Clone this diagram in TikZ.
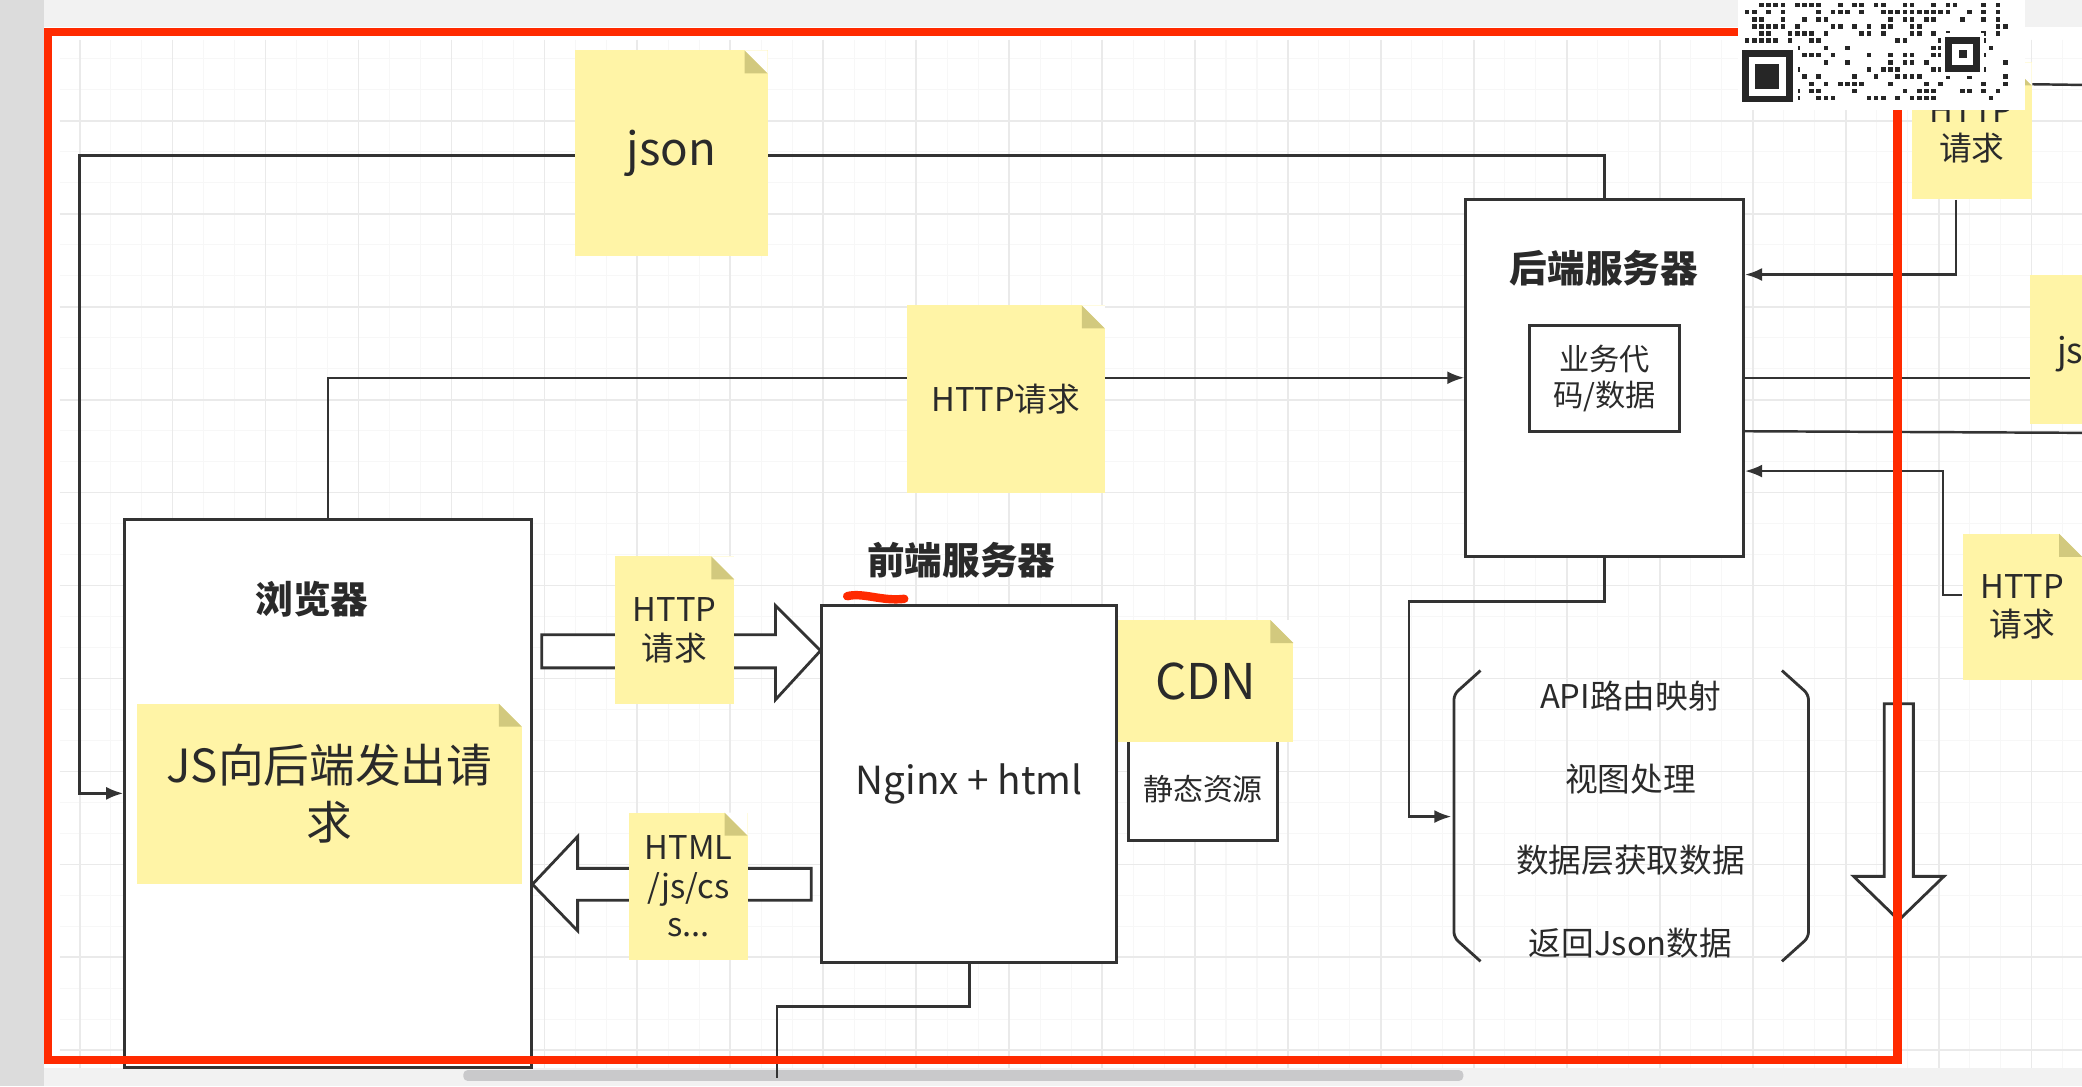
\documentclass[tikz,border=0pt]{standalone}
\usepackage{fontspec}
\setmainfont{Noto Sans CJK SC}
\usetikzlibrary{arrows.meta,calc,backgrounds}

\definecolor{noteyellow}{HTML}{FFF4A6}
\definecolor{notefold}{HTML}{D2C97E}
\definecolor{linegray}{HTML}{333333}
\definecolor{textdark}{HTML}{2A2A2A}
\definecolor{markred}{HTML}{FF2A00}
\definecolor{gridmajor}{HTML}{EAEAEA}
\definecolor{gridminor}{HTML}{F7F7F7}
\definecolor{sidegray}{HTML}{DCDCDC}
\definecolor{topgray}{HTML}{F2F2F2}
\definecolor{scrollgray}{HTML}{C9C9CB}

\newlength{\pxu}\setlength{\pxu}{0.13278mm}
\newlength{\foldsz}\setlength{\foldsz}{2.3mm}

\tikzset{
  bigbox/.style={draw=linegray, line width=0.9pt, fill=white, inner sep=0pt, text=textdark},
  stickynote/.style={fill=noteyellow, inner sep=0pt, text=textdark, align=center,
    path picture={
      \fill[white] ([xshift=-\foldsz]path picture bounding box.north east) -- (path picture bounding box.north east)
        -- ([yshift=-\foldsz]path picture bounding box.north east) -- cycle;
      \fill[notefold] ([xshift=-\foldsz]path picture bounding box.north east) -- ([yshift=-\foldsz]path picture bounding box.north east)
        -- ([xshift=-\foldsz,yshift=-\foldsz]path picture bounding box.north east) -- cycle;
    }},
  wire/.style={draw=linegray, line width=0.7pt},
  wirearrow/.style={wire, -{Latex[length=1.7mm,width=1.3mm]}},
  blockarrow/.style={draw=linegray, line width=0.8pt, fill=white, line join=miter},
  boxtitle/.style={font=\bfseries\fontsize{10.7}{13}\selectfont, text=textdark},
  plaintext/.style={font=\fontsize{9.3}{11}\selectfont, text=textdark}
}

\begin{document}
\begin{tikzpicture}[x=0.013278cm, y=-0.013278cm]
  \useasboundingbox (0,0) rectangle (1568,818);

  \node[bigbox, minimum width=306\pxu, minimum height=413\pxu] (browser) at (247,597.5) {};
  \node[boxtitle] (browsertitle) at (235,451) {浏览器};
  \node[stickynote, minimum width=290\pxu, minimum height=136\pxu, font=\fontsize{13}{16.2}\selectfont] (jsreq) at (248,598) {JS向后端发出请\\求};

  \node[bigbox, minimum width=209\pxu, minimum height=269\pxu] (backend) at (1208.5,284.5) {};
  \node[boxtitle] (backendtitle) at (1208,202) {后端服务器};
  \node[bigbox, line width=0.8pt, minimum width=113\pxu, minimum height=80\pxu, align=center, font=\fontsize{8.6}{10.2}\selectfont] (bizdata) at (1208.5,285) {业务代\\码/数据};

  \node[boxtitle] (fronttitle) at (724,422) {前端服务器};
  \node[bigbox, minimum width=222\pxu, minimum height=269\pxu, font=\fontsize{11}{13}\selectfont] (frontend) at (730,590.5) {Nginx + html};
  \node[bigbox, line width=0.8pt, minimum width=112\pxu, minimum height=78\pxu, font=\fontsize{8.5}{10}\selectfont] (cdnbox) at (906,594) {静态资源};
  \node[stickynote, minimum width=132\pxu, minimum height=92\pxu, font=\fontsize{14}{16}\selectfont] (cdn) at (908,513) {CDN};

  \node[stickynote, minimum width=145\pxu, minimum height=155\pxu, font=\fontsize{13}{15}\selectfont] (json) at (505.5,115.5) {json};
  \node[stickynote, plaintext, minimum width=149\pxu, minimum height=141\pxu] (httpreq) at (757.5,300.5) {HTTP请求};
  \node[stickynote, plaintext, minimum width=90\pxu, minimum height=111\pxu] (pagereq) at (508,474.5) {HTTP\\请求};
  \node[stickynote, plaintext, minimum width=89\pxu, minimum height=111\pxu] (pagefiles) at (518.5,667.5) {HTML\\/js/cs\\s...};

  \node[stickynote, plaintext, minimum width=90\pxu, minimum height=103\pxu] (toprq) at (1485,98.5) {HTTP\\请求};
  \node[stickynote, minimum width=91\pxu, minimum height=112\pxu] (jsright) at (1574.5,263) {};
  \node[anchor=west, font=\fontsize{10}{12}\selectfont, text=textdark] (jstext) at (1540,267) {js};
  \node[stickynote, plaintext, minimum width=90\pxu, minimum height=110\pxu] (httpright) at (1523,457) {HTTP\\请求};

  \node[plaintext] (api1) at (1228,524) {API路由映射};
  \node[plaintext] (api2) at (1228,587) {视图处理};
  \node[plaintext] (api3) at (1228,648) {数据层获取数据};
  \node[plaintext] (api4) at (1228,710) {返回Json数据};

  \coordinate (jsonbend) at (60,117);
  \coordinate (apibend) at (1061,453);
  \coordinate (apiin) at (1093,615);
  \coordinate (frontbend) at (585,758);
  \coordinate (frontout) at (585,812);
  \coordinate (edgetop) at (1570,64);
  \coordinate (edgemid) at (1570,326);

  \begin{scope}[on background layer]
    \fill[white] (0,0) rectangle (1568,818);
    \fill[sidegray] (0,0) rectangle (33,818);
    \fill[topgray] (33,0) rectangle (1568,20);
    \foreach \gx in {60,83.333,...,1568} \draw[gridminor, line width=0.3pt] (\gx,30) -- (\gx,804);
    \foreach \gy in {44.333,67.667,...,804} \draw[gridminor, line width=0.3pt] (45,\gy) -- (1568,\gy);
    \foreach \gx in {60,130,...,1568} \draw[gridmajor, line width=0.5pt] (\gx,30) -- (\gx,804);
    \foreach \gy in {91,161,...,804} \draw[gridmajor, line width=0.5pt] (45,\gy) -- (1568,\gy);
    \fill[topgray] (33,804) rectangle (1568,818);
    \fill[scrollgray, rounded corners=3\pxu] (349,806) rectangle (1102,814);

    \draw[wirearrow] (backend.north) |- (jsonbend) |- (browser.west);
    \draw[wirearrow] (browser.north) |- (backend.west);
    \draw[wirearrow] (backend.south) |- (apibend) |- (apiin);
    \draw[wire] (frontend.south) |- (frontbend) -- (frontout);
    \draw[wirearrow] ($(toprq.south)+(-12,0)$) |- ($(backend.north east)+(0,58)$);
    \draw[wire] (backend.east) -- (jsright.west |- backend.east);
    \draw[wire] ($(backend.north east)+(0,176)$) -- (edgemid);
    \draw[wirearrow] ($(httpright.west)+(0,-9)$) -- ++(-14,0) |- ($(backend.north east)+(0,206)$);
    \draw[wire] ($(toprq.north east)+(0,17)$) -- (edgetop);

    \draw[blockarrow] (408,478) -- (584,478) -- (584,456) -- (618,490) -- (584,527) -- (584,503) -- (408,503) -- cycle;
    \draw[blockarrow] (611,654) -- (435,654) -- (435,630) -- (401,666) -- (435,701) -- (435,678) -- (611,678) -- cycle;
  \end{scope}

  \draw[wire, line width=0.8pt, rounded corners=4\pxu] (1115,505) -- (1095,523) -- (1095,706) -- (1115,724);
  \draw[wire, line width=0.8pt, rounded corners=4\pxu] (1342,505) -- (1362,523) -- (1362,706) -- (1342,724);
  \draw[blockarrow] (1419,530) -- (1441,530) -- (1441,660) -- (1464,660) -- (1430,693) -- (1396,660) -- (1419,660) -- cycle;

  \draw[markred, line width=2.3pt] (36,24) rectangle (1429,798);
  \draw[markred, line width=2.4pt, line cap=round] (638,449) .. controls (650,446) and (664,453) .. (681,451);

  \fill[white] (1309,0) rectangle (1525,83);
  \pgfmathsetseed{17}
  \foreach \qi in {0,...,36}{
    \foreach \qj in {0,...,13}{
      \pgfmathtruncatemacro{\qbit}{rnd<0.42}
      \ifnum\qbit=1 \fill[black!85] (1314+\qi*5.4,2+\qj*5.4) rectangle ++(3.5,3.5); \fi
    }
  }
  \fill[white] (1309,34) rectangle (1354,83);
  \fill[black!85] (1312,38) rectangle (1350,77);
  \fill[white] (1317,43) rectangle (1345,72);
  \fill[black!85] (1322,48) rectangle (1340,67);
  \fill[white] (1462,25) rectangle (1494,57);
  \fill[black!85] (1465,28) rectangle (1491,54);
  \fill[white] (1470,33) rectangle (1486,49);
  \fill[black!85] (1475,38) rectangle (1481,44);
\end{tikzpicture}
\end{document}
